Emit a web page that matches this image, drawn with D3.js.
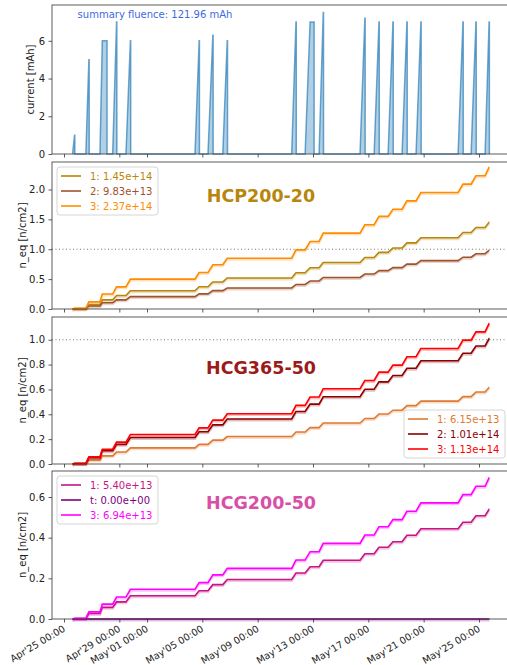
<!DOCTYPE html>
<html>
<head>
<meta charset="utf-8">
<script src="https://cdn.jsdelivr.net/npm/d3@7"></script>
<style>
  body { margin: 0; background: #fff; }
  text { font-family: "DejaVu Sans", sans-serif; }
</style>
</head>
<body>
<script>
// Irradiation runs, in days since Apr 25 00:00
var runStart = [0.62, 1.58, 2.60, 3.52, 4.48, 9.47, 10.41, 11.48, 16.46, 17.43, 18.44, 21.40, 22.42, 23.43, 24.44, 25.45, 28.49, 29.43, 30.44];
var runTop   = [0.76, 1.80, 2.77, 3.80, 4.80, 9.77, 10.76, 11.80, 16.77, 17.79, 18.74, 21.75, 22.77, 23.78, 24.79, 25.80, 28.84, 29.78, 30.73];
var runEnd   = [0.78, 1.82, 3.11, 3.82, 4.82, 9.79, 10.78, 11.82, 16.79, 18.08, 18.76, 21.77, 22.79, 23.80, 24.81, 25.82, 28.86, 29.80, 30.75];
var runPeak  = [1.0, 5.0, 6.0, 7.0, 6.0, 6.0, 6.3, 6.0, 7.0, 7.0, 7.5, 7.2, 7.0, 7.0, 7.0, 7.0, 7.0, 7.0, 7.0];

// cumulative n_eq (x1e14) after each run, first value = before first run
var hcp20_1 = [0, 0.006, 0.073, 0.153, 0.226, 0.306, 0.373, 0.453, 0.520, 0.606, 0.691, 0.777, 0.863, 0.948, 1.022, 1.107, 1.193, 1.279, 1.364, 1.45];
var hcp20_2 = [0, 0.004, 0.050, 0.104, 0.153, 0.207, 0.253, 0.307, 0.352, 0.411, 0.469, 0.527, 0.585, 0.643, 0.693, 0.751, 0.809, 0.867, 0.925, 0.983];
var hcp20_3 = [0, 0.010, 0.120, 0.250, 0.370, 0.500, 0.610, 0.740, 0.850, 0.990, 1.130, 1.270, 1.410, 1.550, 1.670, 1.810, 1.950, 2.090, 2.230, 2.37];

var hcg365_1 = [0, 0.003, 0.031, 0.065, 0.096, 0.130, 0.158, 0.192, 0.221, 0.257, 0.293, 0.330, 0.366, 0.402, 0.433, 0.470, 0.506, 0.542, 0.579, 0.615];
var hcg365_2 = [0, 0.004, 0.051, 0.107, 0.158, 0.213, 0.260, 0.315, 0.362, 0.422, 0.482, 0.541, 0.601, 0.661, 0.712, 0.771, 0.831, 0.891, 0.950, 1.01];
var hcg365_3 = [0, 0.005, 0.057, 0.119, 0.176, 0.238, 0.291, 0.353, 0.405, 0.472, 0.539, 0.606, 0.672, 0.739, 0.796, 0.863, 0.930, 0.997, 1.063, 1.13];

var hcg200_1 = [0, 0.002, 0.027, 0.057, 0.084, 0.114, 0.139, 0.169, 0.194, 0.226, 0.257, 0.289, 0.321, 0.353, 0.380, 0.412, 0.444, 0.476, 0.508, 0.54];
var hcg200_2 = [0, 0, 0, 0, 0, 0, 0, 0, 0, 0, 0, 0, 0, 0, 0, 0, 0, 0, 0, 0];
var hcg200_3 = [0, 0.003, 0.035, 0.073, 0.108, 0.146, 0.179, 0.217, 0.249, 0.290, 0.331, 0.372, 0.413, 0.454, 0.489, 0.530, 0.571, 0.612, 0.653, 0.694];

var titles = ["HCP200-20", "HCG365-50", "HCG200-50"];
var legendLabels = [
  ["1: 1.45e+14", "2: 9.83e+13", "3: 2.37e+14"],
  ["1: 6.15e+13", "2: 1.01e+14", "3: 1.13e+14"],
  ["1: 5.40e+13", "t: 0.00e+00", "3: 6.94e+13"]
];
var xTickDays = [0, 4, 6, 10, 14, 18, 22, 26, 30];
var xTickLabels = ["Apr'25 00:00", "Apr'29 00:00", "May'01 00:00", "May'05 00:00", "May'09 00:00",
                   "May'13 00:00", "May'17 00:00", "May'21 00:00", "May'25 00:00"];
var summaryText = "summary fluence: 121.96 mAh";

var W = 507, H = 665;
var base = Date.UTC(2024, 3, 25);
function day(d) { return new Date(base + d * 864e5); }

var svg = d3.select("body").append("svg")
  .attr("width", W).attr("height", H)
  .style("display", "block");

svg.append("rect").attr("width", W).attr("height", H).attr("fill", "#fff");

var left = 52, right = 540;
var x = d3.scaleUtc().domain([day(0), day(30)]).range([64, 479]);

// panel frames
var frames = [
  { top: 5, bottom: 154, ymax: 7.9, ticks: [0, 2, 4, 6], fmt: d3.format("d"), label: "current [mAh]", lx: 34 },
  { top: 162, bottom: 309, ymax: 2.46, ticks: [0, 0.5, 1, 1.5, 2], fmt: d3.format(".1f"), label: "n_eq [n/cm2]", lx: 26 },
  { top: 317, bottom: 464, ymax: 1.183, ticks: [0, 0.2, 0.4, 0.6, 0.8, 1.0], fmt: d3.format(".1f"), label: "n_eq [n/cm2]", lx: 26 },
  { top: 471, bottom: 619, ymax: 0.728, ticks: [0, 0.2, 0.4, 0.6], fmt: d3.format(".1f"), label: "n_eq [n/cm2]", lx: 26 }
];

var fluence = [
  { series: [hcp20_1, hcp20_2, hcp20_3], colors: ["#b8860b", "#a0522d", "#ff8c00"], titleColor: "#b8860b", titleDy: 40, legend: "tl", dotted: true },
  { series: [hcg365_1, hcg365_2, hcg365_3], colors: ["#e07a32", "#8b0000", "#ff0000"], titleColor: "#9b1b1b", titleDy: 57, legend: "br", dotted: true },
  { series: [hcg200_1, hcg200_2, hcg200_3], colors: ["#c71585", "#800080", "#ff00ff"], titleColor: "#d94fa6", titleDy: 38, legend: "tl", dotted: false }
];

frames.forEach(function (f, i) {
  var y = d3.scaleLinear().domain([0, f.ymax]).range([f.bottom, f.top]);
  f.y = y;
  var g = svg.append("g");
  f.g = g;

  // Y axis
  var ya = g.append("g")
    .attr("transform", "translate(" + left + ",0)")
    .call(d3.axisLeft(y).tickValues(f.ticks).tickFormat(f.fmt).tickSize(3.5).tickPadding(3.5).tickSizeOuter(0));
  ya.select(".domain").remove();
  ya.selectAll("line").attr("stroke", "#333").attr("stroke-width", 0.8);
  ya.selectAll("text").attr("font-size", 10).attr("fill", "#222").attr("font-family", "DejaVu Sans");

  // X axis ticks
  var xa = g.append("g")
    .attr("transform", "translate(0," + f.bottom + ")")
    .call(d3.axisBottom(x).tickValues(xTickDays.map(day)).tickSize(3.5).tickSizeOuter(0).tickFormat(""));
  xa.select(".domain").remove();
  xa.selectAll("line").attr("stroke", "#333").attr("stroke-width", 0.8);

  // y label
  g.append("text")
    .attr("transform", "translate(" + f.lx + "," + ((f.top + f.bottom) / 2) + ") rotate(-90)")
    .attr("text-anchor", "middle")
    .attr("font-size", 10)
    .attr("fill", "#222")
    .text(f.label);
});

// top panel: current spikes
var p0 = frames[0];
var curPts = [];
runStart.forEach(function (s, i) {
  curPts.push([s, 0], [runTop[i], runPeak[i]], [runEnd[i], runPeak[i]], [runEnd[i], 0]);
});
var area = d3.area()
  .x(function (d) { return x(day(d[0])); })
  .y0(p0.y(0))
  .y1(function (d) { return p0.y(d[1]); });
var line0 = d3.line()
  .x(function (d) { return x(day(d[0])); })
  .y(function (d) { return p0.y(d[1]); });
p0.g.append("path").attr("d", area(curPts)).attr("fill", "#1f77b4").attr("fill-opacity", 0.35);
p0.g.append("path").attr("d", line0(curPts)).attr("fill", "none")
  .attr("stroke", "#1f77b4").attr("stroke-opacity", 0.65).attr("stroke-width", 1.5);
p0.g.append("text")
  .attr("x", 155).attr("y", 18)
  .attr("text-anchor", "middle")
  .attr("font-size", 10)
  .attr("fill", "#4169e1")
  .text(summaryText);

// fluence panels
fluence.forEach(function (fp, k) {
  var f = frames[k + 1];
  var y = f.y;
  var ln = d3.line()
    .x(function (d) { return x(day(d[0])); })
    .y(function (d) { return y(d[1]); });

  if (fp.dotted) {
    f.g.append("line")
      .attr("x1", left).attr("x2", right)
      .attr("y1", y(1)).attr("y2", y(1))
      .attr("stroke", "#777").attr("stroke-width", 1)
      .attr("stroke-dasharray", "1,2.5");
  }

  fp.series.forEach(function (lv, j) {
    var pts = [[runStart[0], lv[0]]];
    runStart.forEach(function (s, i) {
      pts.push([s, lv[i]], [runTop[i], lv[i + 1]]);
    });
    pts.push([runEnd[runEnd.length - 1], lv[lv.length - 1]]);
    // faint shadow
    f.g.append("path").attr("d", ln(pts)).attr("fill", "none")
      .attr("stroke", fp.colors[j]).attr("stroke-opacity", 0.25).attr("stroke-width", 2.5)
      .attr("transform", "translate(0,1.2)");
    f.g.append("path").attr("d", ln(pts)).attr("fill", "none")
      .attr("stroke", fp.colors[j]).attr("stroke-width", 1.6);
  });

  // title
  f.g.append("text")
    .attr("x", 261).attr("y", f.top + fp.titleDy)
    .attr("text-anchor", "middle")
    .attr("font-family", "Liberation Sans")
    .attr("font-size", 17.5)
    .attr("font-weight", "bold")
    .attr("fill", fp.titleColor)
    .text(titles[k]);

  // legend
  var lx = fp.legend === "tl" ? 57 : 404;
  var ly = fp.legend === "tl" ? f.top + 5 : f.bottom - 54;
  var lg = f.g.append("g").attr("transform", "translate(" + lx + "," + ly + ")");
  lg.append("rect").attr("width", 101).attr("height", 48).attr("rx", 3)
    .attr("fill", "#fff").attr("fill-opacity", 0.85)
    .attr("stroke", "#ccc").attr("stroke-width", 0.8);
  legendLabels[k].forEach(function (t, j) {
    var yy = 9 + j * 15;
    lg.append("line").attr("x1", 4).attr("x2", 24).attr("y1", yy).attr("y2", yy)
      .attr("stroke", fp.colors[j]).attr("stroke-width", 1.6);
    lg.append("text").attr("x", 33).attr("y", yy + 3.6)
      .attr("font-size", 10).attr("fill", fp.colors[j]).text(t);
  });
});

// frames (spines) on top
frames.forEach(function (f) {
  svg.append("rect")
    .attr("x", left).attr("y", f.top)
    .attr("width", right - left).attr("height", f.bottom - f.top)
    .attr("fill", "none").attr("stroke", "#333").attr("stroke-width", 0.8);
});

// bottom x tick labels
var fb = frames[3];
xTickDays.forEach(function (d, i) {
  svg.append("text")
    .attr("transform", "translate(" + (x(day(d)) + 2) + "," + (fb.bottom + 11.5) + ") rotate(-31)")
    .attr("text-anchor", "end")
    .attr("font-size", 9.6)
    .attr("fill", "#222")
    .text(xTickLabels[i]);
});
</script>
</body>
</html>
